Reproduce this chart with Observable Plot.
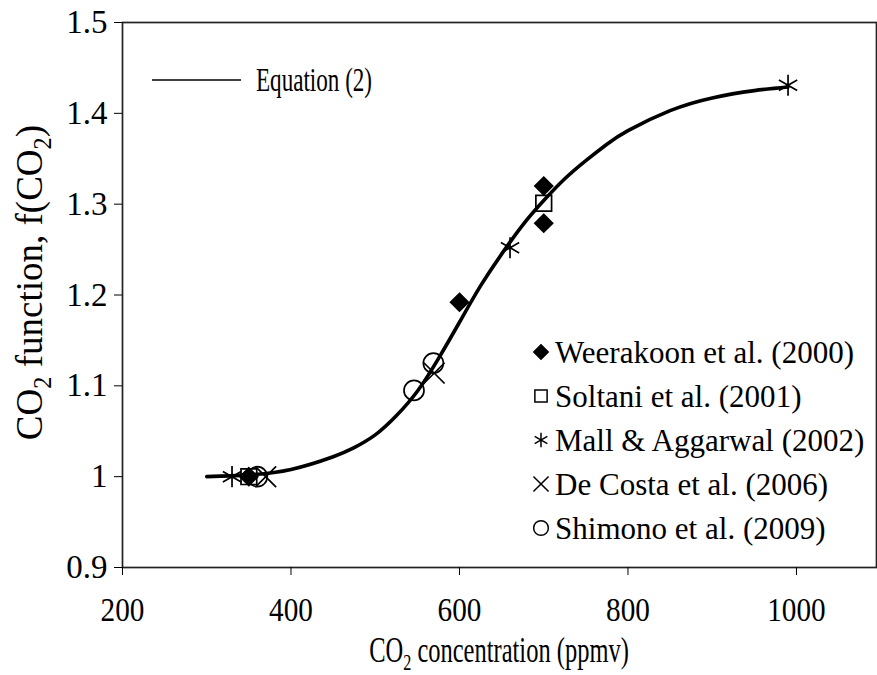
<!DOCTYPE html>
<html>
<head>
<meta charset="utf-8">
<script src="https://cdn.jsdelivr.net/npm/d3@7"></script>
<script src="https://cdn.jsdelivr.net/npm/@observablehq/plot@0.6"></script>
<style>
  html, body { margin: 0; padding: 0; background: #fff; }
  svg text { font-family: "Liberation Serif", "Times New Roman", serif; }
</style>
</head>
<body>
<div id="chart"></div>
<script>
// Equation (2): CO2 response curve, read along its length
const curveCO2 = [300, 350, 400, 450, 475, 500, 525, 550, 575, 600, 625, 650, 675, 700, 725, 750, 775, 800, 850, 900, 950, 990];
const curveF   = [1.000, 1.002, 1.008, 1.022, 1.032, 1.046, 1.067, 1.094, 1.130, 1.170, 1.210, 1.245, 1.277, 1.304, 1.328, 1.348, 1.366, 1.381, 1.403, 1.417, 1.425, 1.429];

// Observed f(CO2) by study
const weerakoonCO2 = [350, 600, 700, 700];
const weerakoonF   = [1.000, 1.192, 1.320, 1.279];
const soltaniCO2   = [350, 700];
const soltaniF     = [1.000, 1.301];
const mallCO2      = [330, 660, 990];
const mallF        = [1.000, 1.252, 1.431];
const deCostaCO2   = [370, 570];
const deCostaF     = [1.000, 1.114];
const shimonoCO2   = [360, 546, 569];
const shimonoF     = [1.000, 1.095, 1.125];

// Axis ticks
const xTicks = [200, 400, 600, 800, 1000];
const xTickLabels = ["200", "400", "600", "800", "1000"];
const yTicks = [0.9, 1.0, 1.1, 1.2, 1.3, 1.4, 1.5];
const yTickLabels = ["0.9", "1", "1.1", "1.2", "1.3", "1.4", "1.5"];

const studies = [
  {name: "Weerakoon et al. (2000)", x: weerakoonCO2, y: weerakoonF, symbol: "diamond2", fill: "black", r: 8, lr: 6.5},
  {name: "Soltani et al. (2001)", x: soltaniCO2, y: soltaniF, symbol: "square2", fill: "none", r: 10, lr: 9},
  {name: "Mall & Aggarwal (2002)", x: mallCO2, y: mallF, symbol: "asterisk", fill: "none", r: 10, lr: 8},
  {name: "De Costa et al. (2006)", x: deCostaCO2, y: deCostaF, symbol: "times", fill: "none", r: 9.5, lr: 8},
  {name: "Shimono et al. (2009)", x: shimonoCO2, y: shimonoF, symbol: "circle", fill: "none", r: 10, lr: 8.5}
];

(function draw() {
  const curve = curveCO2.map((c, i) => ({c, f: curveF[i]}));
  const rows = (s) => s.x.map((c, i) => ({c, f: s.y[i]}));

  const W = 877, H = 675;
  const mL = 122, mR = 1, mT = 22, mB = 108;

  const plot = Plot.plot({
    width: W,
    height: H,
    marginLeft: mL,
    marginRight: mR,
    marginTop: mT,
    marginBottom: mB,
    style: {fontFamily: "Liberation Serif, serif", fontSize: "33px", background: "white", overflow: "visible"},
    x: {domain: [200, 1095], ticks: xTicks},
    y: {domain: [0.9, 1.5], ticks: yTicks},
    marks: [
      Plot.frame({stroke: "#222", strokeWidth: 1.7}),
      Plot.axisX({ticks: xTicks, tickSize: 8, tickPadding: 21, label: null, stroke: "black", fill: "black", fontSize: 34,
        tickFormat: (d) => xTickLabels[xTicks.indexOf(d)]}),
      Plot.axisY({ticks: yTicks, tickSize: 8, tickPadding: 7, label: null, fill: "black", fontSize: 33,
        tickFormat: (d) => yTickLabels[yTicks.indexOf(d)]}),
      Plot.line(curve, {x: "c", y: "f", stroke: "black", strokeWidth: 3.6, curve: "natural"}),
      ...studies.map((s) => Plot.dot(rows(s), {
        x: "c", y: "f", symbol: s.symbol, r: s.r,
        stroke: "black", strokeWidth: 1.7, fill: s.fill
      }))
    ]
  });

  document.getElementById("chart").appendChild(plot);

  const svg = d3.select(plot);

  // Narrow the x tick labels horizontally about their own centres (condensed Times look)
  svg.selectAll('g[aria-label="x-axis tick label"] text').each(function () {
    const el = this;
    const bb = el.getBBox();
    const cx = bb.x + bb.width / 2;
    const tx = el.getAttribute("transform") || "";
    el.setAttribute("transform", `${tx} translate(${cx},0) scale(0.86,1) translate(${-cx},0)`);
  });

  const xs = plot.scale("x");
  const ys = plot.scale("y");
  const x0 = xs.range[0], x1 = xs.range[1];
  const yTop = ys.range[1], yBottom = ys.range[0];

  // Text with a subscript "2" after each "CO"
  function addLabel(g, parts, size) {
    const t = g.append("text").attr("fill", "black").attr("font-size", size);
    parts.forEach((p) => {
      if (p.sub) {
        t.append("tspan").attr("font-size", size * 0.66).attr("dy", size * 0.24).text(p.t);
      } else {
        t.append("tspan").attr("dy", p.after ? -size * 0.24 : 0).text(p.t);
      }
    });
    return t;
  }

  // x-axis title
  const xTitle = svg.append("g")
    .attr("transform", `translate(${(x0 + x1) / 2},${yBottom + 95}) scale(0.7,1)`);
  addLabel(xTitle, [{t: "CO"}, {t: "2", sub: true}, {t: " concentration (ppmv)", after: true}], 35)
    .attr("text-anchor", "middle");

  // y-axis title
  const yTitle = svg.append("g")
    .attr("transform", `translate(${x0 - 80},${(yTop + yBottom) / 2 - 12}) rotate(-90)`);
  addLabel(yTitle, [{t: "CO"}, {t: "2", sub: true}, {t: " function, f(CO", after: true}, {t: "2", sub: true}, {t: ")", after: true}], 37)
    .attr("text-anchor", "middle");

  // Legend for the equation line (top left)
  const eq = svg.append("g").attr("transform", `translate(${x0 + 30},${yTop + 58})`);
  eq.append("line").attr("x1", 0).attr("x2", 89).attr("y1", 0).attr("y2", 0)
    .attr("stroke", "black").attr("stroke-width", 1.5);
  eq.append("text").attr("transform", "translate(104,11) scale(0.7,1)")
    .attr("text-anchor", "start").attr("font-size", 33).attr("fill", "black").text("Equation (2)");

  // Legend for the observations (bottom right)
  const symbolMap = {
    diamond2: d3.symbolDiamond2, square2: d3.symbolSquare2,
    asterisk: d3.symbolAsterisk, times: d3.symbolTimes, circle: d3.symbolCircle
  };
  const lg = svg.append("g").attr("transform", `translate(${x0 + 419},${yBottom - 215})`);
  studies.forEach((s, i) => {
    const row = lg.append("g").attr("transform", `translate(0,${i * 44})`);
    row.append("path")
      .attr("d", d3.symbol(symbolMap[s.symbol], Math.PI * s.lr * s.lr * (s.symbol === "diamond2" ? 1 : 0.75))())
      .attr("fill", s.fill).attr("stroke", "black").attr("stroke-width", 1.5);
    row.append("text").attr("transform", "translate(14,11) scale(0.97,1)").attr("text-anchor", "start")
      .attr("font-size", 32).attr("fill", "black").text(s.name);
  });
})();
</script>
</body>
</html>
